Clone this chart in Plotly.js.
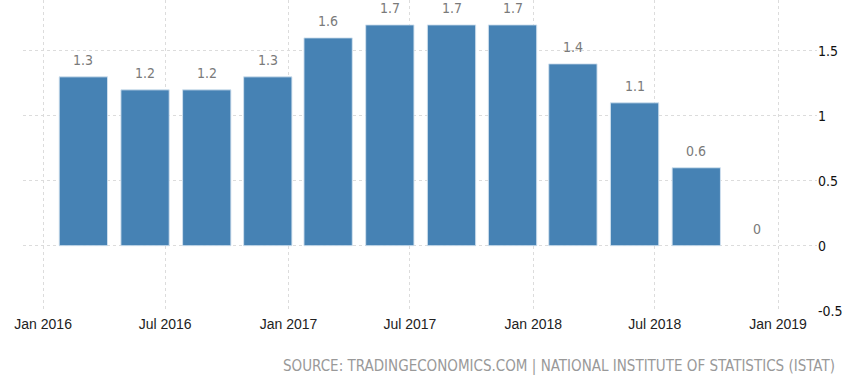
<!DOCTYPE html>
<html>
<head>
<meta charset="utf-8">
<script src="https://cdn.plot.ly/plotly-3.0.1.min.js"></script>
<style>html,body{margin:0;padding:0;background:#fff;}#chart{width:854px;height:377px;}</style>
</head>
<body>
<div id="chart"></div>
<script>
const dates = ['2016-03-01','2016-06-01','2016-09-01','2016-12-01','2017-03-01','2017-06-01','2017-09-01','2017-12-01','2018-03-01','2018-06-01','2018-09-01','2018-12-01'];
const values = [1.3, 1.2, 1.2, 1.3, 1.6, 1.7, 1.7, 1.7, 1.4, 1.1, 0.6, 0];
const yTicks = [-0.5, 0, 0.5, 1, 1.5];
const yTickLabels = ['-0.5', '0', '0.5', '1', '1.5'];
const sourceText = 'SOURCE: TRADINGECONOMICS.COM | NATIONAL INSTITUTE OF STATISTICS (ISTAT)';

const DAY = 86400000;
const trace = {
  type: 'bar',
  x: dates,
  y: values,
  width: dates.map(() => 72 * DAY),
  marker: {color: '#4682B4', line: {color: 'rgba(210,225,238,0.9)', width: values.map(v => v === 0 ? 0 : 1)}},
  hoverinfo: 'x+y'
};

const annotations = dates.map((d, i) => ({
  x: d, y: values[i], xref: 'x', yref: 'y',
  text: String(values[i]),
  showarrow: false, yanchor: 'bottom', yshift: 7,
  font: {family: 'DejaVu Sans Condensed, DejaVu Sans', size: 14, color: '#7a7a7a'}
}));
annotations.push({
  xref: 'paper', yref: 'paper', x: 1.025, y: -0.14, xanchor: 'right', yanchor: 'top',
  text: sourceText, showarrow: false,
  font: {family: 'DejaVu Sans Condensed, DejaVu Sans', size: 15, color: '#999999'}
});

const layout = {
  width: 854, height: 377,
  margin: {l: 23, r: 37, t: 0, b: 66},
  paper_bgcolor: '#ffffff', plot_bgcolor: '#ffffff',
  showlegend: false,
  bargap: 0,
  xaxis: {
    type: 'date',
    range: ['2015-12-02', '2019-02-28'],
    tick0: '2016-01-01', dtick: 'M6', tickformat: '%b %Y',
    showgrid: true, gridcolor: '#dcdcdc', griddash: '3px,3px', gridwidth: 1,
    zeroline: false, showline: false, ticks: '',
    ticklabelstandoff: 3,
    tickfont: {family: 'Liberation Sans, Arial', size: 14, color: '#222'}
  },
  yaxis: {
    side: 'right',
    range: [-0.503, 1.892],
    tickvals: yTicks, ticktext: yTickLabels,
    showgrid: true, gridcolor: '#dcdcdc', griddash: '3px,3px', gridwidth: 1,
    zeroline: false, showline: false, ticks: '',
    tickfont: {family: 'DejaVu Sans Condensed, DejaVu Sans', size: 14, color: '#111'}
  },
  annotations: annotations
};

Plotly.newPlot('chart', [trace], layout, {displayModeBar: false, staticPlot: true});
</script>
</body>
</html>
